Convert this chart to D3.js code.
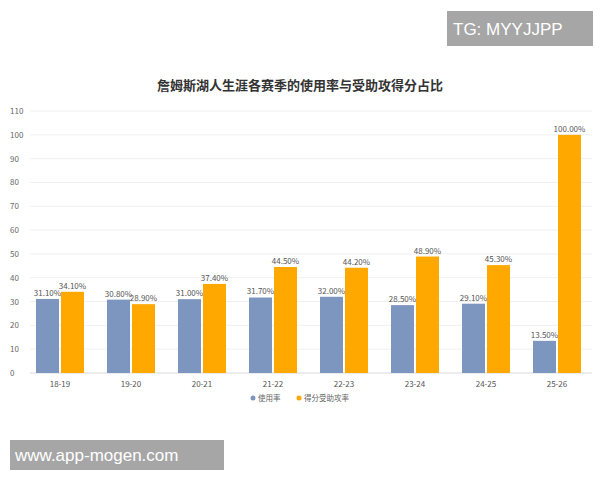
<!DOCTYPE html>
<html><head><meta charset="utf-8">
<script src="https://cdn.jsdelivr.net/npm/d3@7"></script>
<style>body{margin:0;background:#fff}</style></head>
<body><div id="chart"></div>
<script>
const seasons = ["18-19","19-20","20-21","21-22","22-23","23-24","24-25","25-26"];
const usage = [31.1,30.8,31.0,31.7,32.0,28.5,29.1,13.5];
const assisted = [34.1,28.9,37.4,44.5,44.2,48.9,45.3,100.0];
const yTicks = [0,10,20,30,40,50,60,70,80,90,100,110];
const seriesNames = ["使用率","得分受助攻率"];
const colors = ["#7d96bf","#ffa800"];

const width = 600, height = 480;
const font = "'Noto Sans CJK SC', 'Noto Sans', sans-serif";

const svg = d3.select("#chart").append("svg")
  .attr("width", width).attr("height", height)
  .style("font-family", font);

const x = d3.scaleBand().domain(seasons).range([24.5, 592.5]);
const y = d3.scaleLinear().domain([0, 110]).range([373, 111]);

// grid
svg.append("g").selectAll("line").data(yTicks).enter().append("line")
  .attr("x1", 30).attr("x2", 592)
  .attr("y1", d => y(d)).attr("y2", d => y(d))
  .attr("stroke", d => d === 0 ? "#d9d9d9" : "#f0f0f0");

svg.append("g").selectAll("text").data(yTicks).enter().append("text")
  .attr("x", 10).attr("y", d => y(d) + 3)
  .attr("font-size", 8).attr("fill", "#666").text(d => d);

const bw = 23;
[usage, assisted].forEach((vals, s) => {
  const g = svg.append("g");
  g.selectAll("rect").data(vals).enter().append("rect")
    .attr("x", (d, i) => x(seasons[i]) + x.bandwidth() / 2 + (s === 0 ? -bw - 1 : 1))
    .attr("y", d => y(d)).attr("width", bw)
    .attr("height", d => y(0) - y(d))
    .attr("fill", colors[s]);
  g.selectAll("text").data(vals).enter().append("text")
    .attr("x", (d, i) => x(seasons[i]) + x.bandwidth() / 2 + (s === 0 ? -bw / 2 - 1 : bw / 2 + 1))
    .attr("y", d => y(d) - 3)
    .attr("text-anchor", "middle").attr("font-size", 8).attr("fill", "#555")
    .text(d => d.toFixed(2) + "%");
});

svg.append("g").selectAll("text").data(seasons).enter().append("text")
  .attr("x", d => x(d) + x.bandwidth() / 2).attr("y", 387)
  .attr("text-anchor", "middle").attr("font-size", 8).attr("fill", "#555").text(d => d);

// legend
const leg = svg.append("g");
[[253, 0], [299, 1]].forEach(([lx, s]) => {
  leg.append("circle").attr("cx", lx).attr("cy", 398).attr("r", 2.5).attr("fill", colors[s]);
  leg.append("text").attr("x", lx + 5).attr("y", 401)
    .attr("font-size", 7.5).attr("fill", "#666").text(seriesNames[s]);
});

svg.append("text").attr("x", 300).attr("y", 90).attr("text-anchor", "middle")
  .attr("font-size", 13).attr("font-weight", "bold").attr("fill", "#333")
  .text("詹姆斯湖人生涯各赛季的使用率与受助攻得分占比");

// watermarks
svg.append("rect").attr("x", 447).attr("y", 11).attr("width", 146).attr("height", 35).attr("fill", "#a6a6a6");
svg.append("text").attr("x", 453).attr("y", 35).attr("font-size", 17).attr("fill", "#fff")
  .style("font-family", "'Liberation Sans', Arial, sans-serif").text("TG: MYYJJPP");
svg.append("rect").attr("x", 10).attr("y", 440).attr("width", 214).attr("height", 30).attr("fill", "#a6a6a6");
svg.append("text").attr("x", 15).attr("y", 461).attr("font-size", 17).attr("fill", "#fff")
  .style("font-family", "'Liberation Sans', Arial, sans-serif").text("www.app-mogen.com");
</script></body></html>
